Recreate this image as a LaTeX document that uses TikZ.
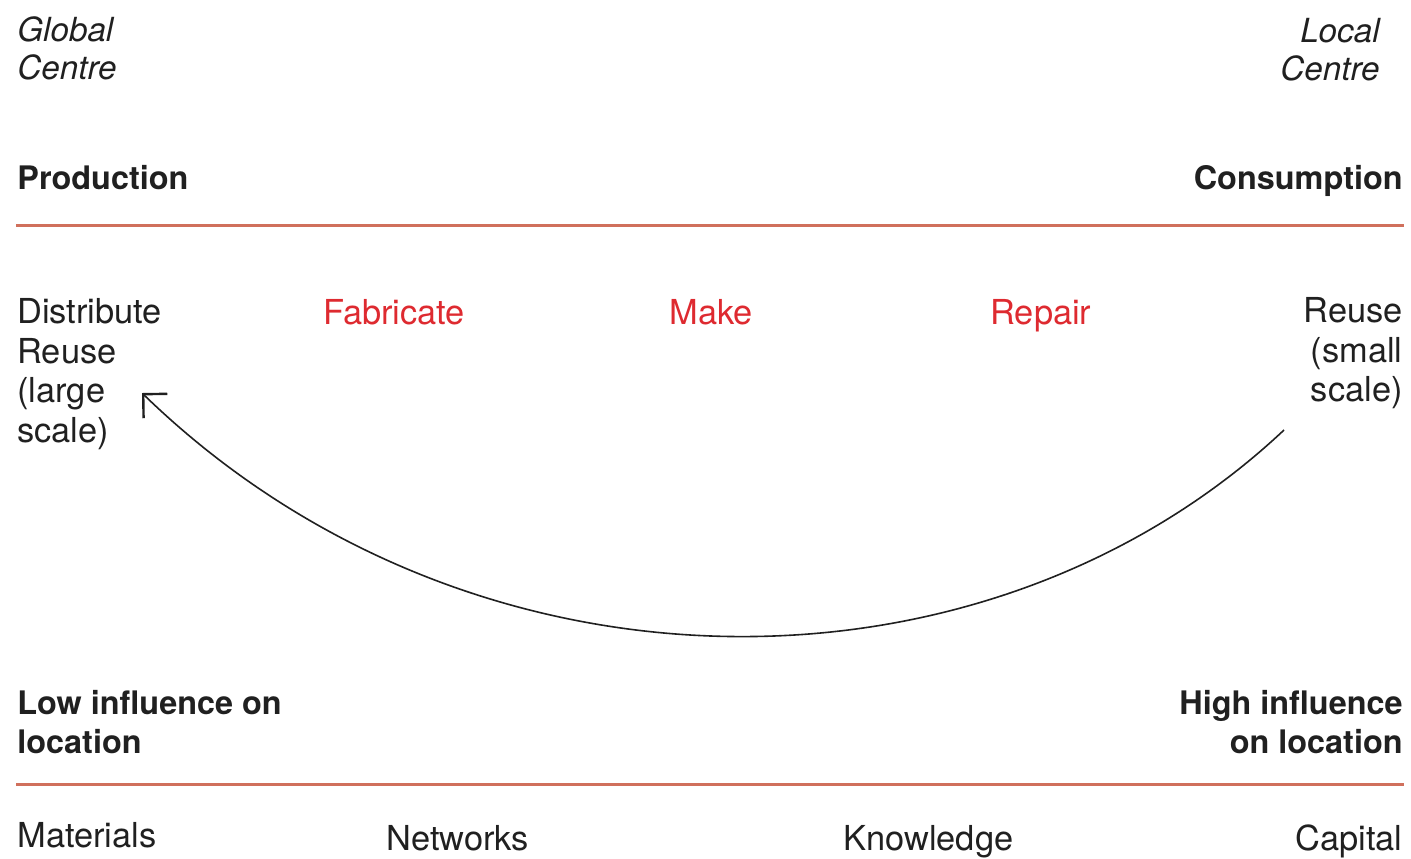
\documentclass[tikz,border=0pt]{standalone}
\usepackage{fontspec}
\setmainfont{TeX Gyre Heros}
\usepackage{tikz}
\usetikzlibrary{positioning,arrows.meta}

\definecolor{rulecol}{RGB}{208,112,92}
\definecolor{redtext}{RGB}{222,42,48}
\definecolor{inkgray}{RGB}{32,32,32}

\begin{document}
\begin{tikzpicture}[x=0.5pt,y=-0.5pt,
  label/.style={inner sep=0pt,text=inkgray,font=\fontsize{17.2}{19.8}\selectfont},
  centre/.style={label,font=\fontsize{16.6}{19}\selectfont\itshape},
  heading/.style={label,font=\fontsize{16.2}{19.5}\selectfont\bfseries},
  activity/.style={label,text=redtext},
  rule/.style={draw=rulecol,line width=1.5pt},
  flow/.style={draw=inkgray,line width=0.8pt,-{Straight Barb[length=8.5pt,width=17pt,line width=1.2pt]}}]
  \useasboundingbox (0,0) rectangle (1411,858);

  \node at(17,16)[centre,anchor=north west,align=left](global){Global\\Centre};
  \node at(1380,18)[centre,anchor=north east,align=right](local){Local\\Centre};

  \node at(17,189)[heading,anchor=base west](production){Production};
  \node at(1403,189)[heading,anchor=base east](consumption){Consumption};

  \draw [rule](16,225) -- (1404,225);

  \node at(17,298)[label,anchor=north west,align=left](distribute){Distribute\\Reuse\\(large\\scale)};
  \node at(323,324)[activity,anchor=base west](fabricate){Fabricate};
  \node at(669,324)[activity,anchor=base west](make){Make};
  \node at(990,324)[activity,anchor=base west](repair){Repair};
  \node at(1403,297)[label,anchor=north east,align=right](reusesmall){Reuse\\(small\\scale)};

  \coordinate (arcstart) at (1284,430);
  \coordinate (arcend) at (142,393);
  \draw [flow](arcstart) .. controls (985,711) and (470,711) .. (arcend);

  \node at(17,690)[heading,anchor=north west,align=left](lowinfl){Low influence on\\location};
  \node at(1403,690)[heading,anchor=north east,align=right](highinfl){High influence\\on location};

  \draw [rule](16,784) -- (1404,784);

  \node at(17,847)[label,anchor=base west](materials){Materials};
  \node at(386,850)[label,anchor=base west](networks){Networks};
  \node at(843,850)[label,anchor=base west](knowledge){Knowledge};
  \node at(1403,850)[label,anchor=base east](capital){Capital};
\end{tikzpicture}
\end{document}
